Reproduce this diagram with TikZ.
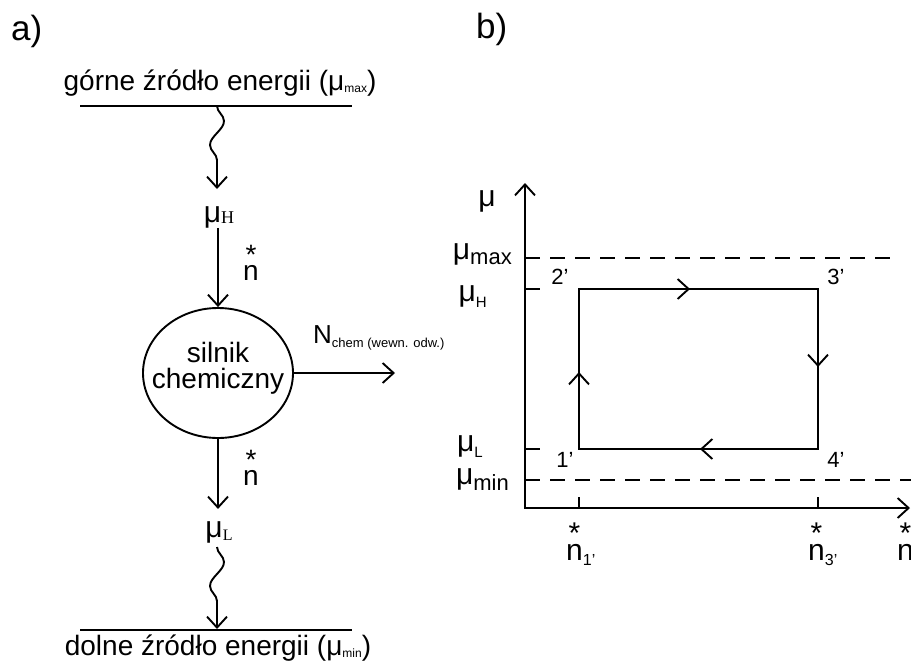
\documentclass[tikz,border=0pt]{standalone}
\usepackage{fontspec}
\setmainfont{Liberation Sans}
\newfontfamily\serifsub{Liberation Serif}
\usetikzlibrary{arrows.meta,positioning,calc,shapes.geometric,decorations.pathmorphing,decorations.markings}
\newcommand{\fs}[1]{\fontsize{#1}{#1}\selectfont}
\newcommand{\idx}[3]{\raisebox{-#1}{\fs{#2}#3}}
\newcommand{\nflux}{\leavevmode\hbox{\ooalign{n\cr\hidewidth\raisebox{0.55em}{*}\hidewidth\cr}}}
\tikzset{barb/.tip={Straight Barb[length=11pt,width=20pt]},flow/.style={-barb,line width=1.9pt},heat/.style={flow,decorate,decoration={snake,amplitude=7pt,segment length=48pt,post length=10pt}},level/.style={line width=1.9pt},limit/.style={line width=1.9pt,dash pattern=on 15pt off 10pt},axis/.style={barb-barb,line width=1.9pt},every picture/.style={line cap=butt}}

\begin{document}
\begin{tikzpicture}[x=1pt,y=-1pt,lbl/.style={inner sep=0pt,font=\fs{28}},cyclemarks/.style={postaction={decorate},decoration={markings,mark=at position 77pt with {\arrow{barb}},mark=at position 271pt with {\arrow{barb}},mark=at position 477pt with {\arrow{barb}},mark=at position 677pt with {\arrow{barb}}}}]
\useasboundingbox (0,0) rectangle (911,662);
\node[lbl,font=\fs{35},anchor=base west] (pa) at (11,40) {a)};
\node[lbl,font=\fs{35},anchor=base west] (pb) at (476,38) {b)};
\node[lbl,anchor=base] (upper) at (220,90) {górne źródło energii (μ\idx{2pt}{12}{max})};
\coordinate (upL) at (80,106);
\coordinate (upR) at (352,106);
\coordinate (upsrc) at (217,106);
\coordinate (hin) at (217,189);
\draw[level] (upL)--(upR);
\node[lbl,font=\fs{30},anchor=base] (muH) at (219,222) {μ\idx{1pt}{18}{\serifsub H}};
\node[draw,ellipse,line width=1.9pt,inner xsep=-15pt,inner ysep=0pt,minimum width=150pt,minimum height=130pt,align=center,font=\fontsize{28}{26}\selectfont,text depth=16pt] (engine) at (218,373) {silnik\\chemiczny};
\node[lbl,anchor=base west] (nup) at (243,280) {\nflux};
\draw[heat] (upsrc)--(hin);
\draw[flow] (muH.south -| engine.north)--(engine.north);
\node[lbl,font=\fs{26},anchor=base west] (power) at (313,343) {N\idx{4pt}{13}{chem (wewn. odw.)}};
\coordinate (pout) at (395,373);
\draw[flow] (engine.east)--(pout);
\node[lbl,font=\fs{30},anchor=base] (muL) at (219,537) {μ\idx{3pt}{16}{\serifsub L}};
\node[lbl,anchor=base west] (ndown) at (243,485) {\nflux};
\draw[flow,shorten >=12pt] (engine.south)--(muL.north -| engine.south);
\coordinate (lowL) at (80,630);
\coordinate (lowR) at (352,630);
\coordinate (lowsrc) at (217,629);
\coordinate (lout) at (217,547);
\draw[heat] (lout)--(lowsrc);
\draw[level] (lowL)--(lowR);
\node[lbl,anchor=base] (lower) at (218,655) {dolne źródło energii (μ\idx{2pt}{12}{min})};

\coordinate (O) at (525,508);
\coordinate (ytop) at (525,183);
\coordinate (xend) at (910,508);
\draw[axis] (ytop)--(O)--(xend);
\node[lbl,font=\fs{30},anchor=base] (mu) at (487,206) {μ};
\coordinate (c1) at (579,449);
\coordinate (c2) at (579,289);
\coordinate (c3) at (818,289);
\coordinate (c4) at (818,449);
\coordinate (maxend) at (892,258);
\coordinate (minend) at (911,480);
\draw[limit] (O |- maxend)--(maxend);
\draw[limit] (O |- minend)--(minend);
\draw[level,line join=miter,cyclemarks] (c1)--(c2)--(c3)--(c4)--cycle;
\draw[level] (O |- c2)--++(15,0);
\draw[level] (O |- c1)--++(15,0);
\draw[level] (O -| c1)--++(0,-11);
\draw[level] (O -| c3)--++(0,-11);
\node[lbl,font=\fs{30},anchor=base east] (mumax) at (512,259) {μ\idx{5pt}{22}{max}};
\node[lbl,font=\fs{30},anchor=base east] (muHr) at (487,301) {μ\idx{6pt}{15}{H}};
\node[lbl,font=\fs{30},anchor=base east] (muLr) at (483,451) {μ\idx{6pt}{15}{L}};
\node[lbl,font=\fs{30},anchor=base east] (mumin) at (509,484) {μ\idx{6pt}{22}{min}};
\node[lbl,font=\fs{22}] (s2) at (560,277) {2'};
\node[lbl,font=\fs{22}] (s3) at (836,277) {3'};
\node[lbl,font=\fs{22}] (s1) at (565,460) {1'};
\node[lbl,font=\fs{22}] (s4) at (836,460) {4'};
\node[lbl,font=\fs{30},anchor=base west] (n1) at (566,560) {\nflux\idx{5pt}{16}{1'}};
\node[lbl,font=\fs{30},anchor=base west] (n3) at (808,560) {\nflux\idx{5pt}{16}{3'}};
\node[lbl,font=\fs{30},anchor=base west] (nax) at (897,560) {\nflux};
\end{tikzpicture}
\end{document}
